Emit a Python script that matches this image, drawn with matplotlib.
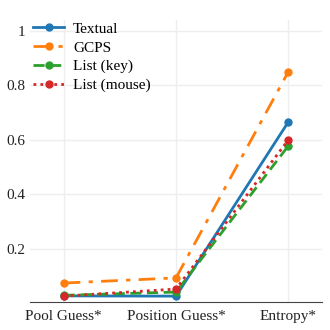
import matplotlib.pyplot as plt

categories = ['Pool Guess*', 'Position Guess*', 'Entropy*']
textual = [0.028, 0.027, 0.666]
gcps = [0.075, 0.094, 0.85]
list_key = [0.030, 0.042, 0.578]
list_mouse = [0.027, 0.053, 0.600]

plt.rcParams['font.family'] = ['Liberation Serif', 'DejaVu Serif']

fig = plt.figure(figsize=(3.3, 3.3), dpi=100)
ax = fig.add_axes([30 / 330, 28 / 330, 292 / 330, 282 / 330])

x = range(len(categories))
ax.plot(x, textual, color='#1f77b4', ls='-', lw=2, marker='o', ms=5, label='Textual')
ax.plot(x, gcps, color='#ff7f0e', ls=(0, (6, 3, 1.5, 3)), lw=2, marker='o', ms=5, label='GCPS')
ax.plot(x, list_key, color='#2ca02c', ls=(0, (4, 2)), lw=2, marker='o', ms=5, label='List (key)')
ax.plot(x, list_mouse, color='#d62728', ls=(0, (1, 1.5)), lw=2, marker='o', ms=5, label='List (mouse)')

ax.set_xlim(-0.30, 2.30)
ax.set_ylim(0.0055, 1.04)
ax.set_xticks(list(x))
ax.set_xticklabels(categories)
ax.set_yticks([0.2, 0.4, 0.6, 0.8, 1.0])
ax.set_yticklabels(['0.2', '0.4', '0.6', '0.8', '1'])
ax.tick_params(length=0, labelsize=11, colors='#222222')
ax.tick_params(axis='x', pad=6)
ax.grid(True, color='#eeeeee', lw=1)
ax.set_axisbelow(True)
for s in ['top', 'right', 'left']:
    ax.spines[s].set_visible(False)
ax.spines['bottom'].set_color('#444444')

ax.legend(loc='upper left', bbox_to_anchor=(-0.02, 1.025), frameon=False,
          fontsize=11, handlelength=2.0, handletextpad=0.6, numpoints=1,
          labelspacing=0.33, borderaxespad=0.2)

fig.savefig('out.png', dpi=100)
